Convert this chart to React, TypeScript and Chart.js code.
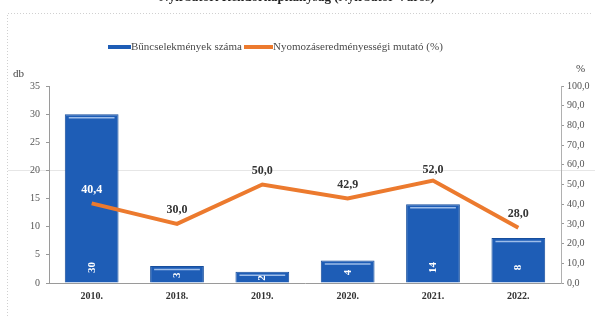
import React, { useEffect, useRef } from "react";
import { Chart, registerables } from "chart.js";

Chart.register(...registerables);

const categories = ["2010.", "2018.", "2019.", "2020.", "2021.", "2022."];
const crimeCounts = [30, 3, 2, 4, 14, 8];
const clearanceRates = [40.4, 30.0, 50.0, 42.9, 52.0, 28.0];
const leftTicks = [0, 5, 10, 15, 20, 25, 30, 35];
const rightTicks = [0, 10, 20, 30, 40, 50, 60, 70, 80, 90, 100];

const titleText = "Nyírbátori Rendőrkapitányság (Nyírbátor Város)";
const barLabel = "Bűncselekmények száma";
const lineLabel = "Nyomozáseredményességi mutató (%)";

const SERIF = "'Liberation Serif', 'DejaVu Serif', serif";
const BAR_COLOR = "#1e5db6";
const LINE_COLOR = "#ec7a2e";

const fmt = (v: number) => v.toFixed(1).replace(".", ",");

const decorPlugin = {
  id: "decor",
  beforeDraw(chart: any) {
    const { ctx } = chart;
    ctx.save();
    // frame
    ctx.strokeStyle = "#d0d0d0";
    ctx.lineWidth = 1;
    ctx.setLineDash([1, 2]);
    ctx.beginPath();
    ctx.moveTo(7.5, 316);
    ctx.lineTo(7.5, 13.5);
    ctx.lineTo(592, 13.5);
    ctx.stroke();
    ctx.setLineDash([]);
    // faint scan line
    ctx.strokeStyle = "rgba(205,205,205,0.5)";
    ctx.beginPath();
    ctx.moveTo(8, 170.5);
    ctx.lineTo(595, 170.5);
    ctx.stroke();
    // title (cut off at top)
    ctx.fillStyle = "#222";
    ctx.font = `bold 13px ${SERIF}`;
    ctx.textAlign = "center";
    ctx.textBaseline = "alphabetic";
    ctx.fillText(titleText, 297, 0.5);
    // legend
    ctx.font = `11px ${SERIF}`;
    ctx.textAlign = "left";
    ctx.textBaseline = "middle";
    ctx.fillStyle = BAR_COLOR;
    ctx.fillRect(108, 45, 23, 4);
    ctx.fillStyle = "#4a4a4a";
    ctx.fillText(barLabel, 131, 47.5);
    ctx.fillStyle = LINE_COLOR;
    ctx.fillRect(244, 45, 29, 4);
    ctx.fillStyle = "#4a4a4a";
    ctx.fillText(lineLabel, 273, 47.5);
    // axis unit labels
    ctx.font = `11px ${SERIF}`;
    ctx.fillStyle = "#444";
    ctx.textAlign = "left";
    ctx.fillText("db", 13, 74);
    ctx.fillText("%", 576, 69);
    ctx.restore();
  },
  afterDatasetsDraw(chart: any) {
    const { ctx } = chart;
    ctx.save();
    const barMeta = chart.getDatasetMeta(0);
    barMeta.data.forEach((bar: any, i: number) => {
      const w = bar.width;
      // highlight stripe
      ctx.strokeStyle = "#9dbde9";
      ctx.lineWidth = 1.5;
      ctx.beginPath();
      ctx.moveTo(bar.x - w / 2 + 4, bar.y + 3.5);
      ctx.lineTo(bar.x + w / 2 - 4, bar.y + 3.5);
      ctx.stroke();
      // rotated value label
      const ly = Math.max(bar.base - 15, (bar.y + bar.base) / 2 + 1);
      ctx.save();
      ctx.translate(bar.x, ly);
      ctx.rotate(-Math.PI / 2);
      ctx.fillStyle = "#ffffff";
      ctx.font = `bold 11px ${SERIF}`;
      ctx.textAlign = "center";
      ctx.textBaseline = "middle";
      ctx.fillText(String(crimeCounts[i]), 0, 0);
      ctx.restore();
    });
    const lineMeta = chart.getDatasetMeta(1);
    lineMeta.data.forEach((pt: any, i: number) => {
      ctx.font = `bold 12px ${SERIF}`;
      ctx.textAlign = "center";
      ctx.textBaseline = "middle";
      ctx.fillStyle = i === 0 ? "#ffffff" : "#333333";
      const off = i === 4 ? 11 : 14;
      ctx.fillText(fmt(clearanceRates[i]), pt.x, pt.y - off);
    });
    ctx.restore();
  },
};

export default function App() {
  const canvasRef = useRef<HTMLCanvasElement | null>(null);

  useEffect(() => {
    if (!canvasRef.current) return;
    const tickFont = { family: SERIF, size: 10 };
    const chart = new Chart(canvasRef.current, {
      type: "bar",
      data: {
        labels: categories,
        datasets: [
          {
            type: "bar",
            label: barLabel,
            data: crimeCounts,
            backgroundColor: BAR_COLOR,
            borderColor: "#174e9c",
            borderWidth: 1,
            yAxisID: "y",
            categoryPercentage: 1,
            barPercentage: 0.63,
            order: 2,
          } as any,
          {
            type: "line",
            label: lineLabel,
            data: clearanceRates,
            borderColor: LINE_COLOR,
            borderWidth: 4,
            pointRadius: 0,
            tension: 0,
            yAxisID: "y1",
            order: 1,
          } as any,
        ],
      },
      plugins: [decorPlugin],
      options: {
        responsive: false,
        animation: false,
        devicePixelRatio: 1,
        layout: { padding: { top: 86, left: 0, right: 0, bottom: 0 } },
        plugins: {
          legend: { display: false },
          title: { display: false },
          tooltip: { enabled: false },
        },
        scales: {
          x: {
            type: "category",
            offset: true,
            grid: { display: false, drawTicks: false },
            border: { display: true, color: "#9a9a9a", dash: [2, 2] },
            ticks: {
              font: { family: SERIF, size: 10, weight: "bold" },
              color: "#333",
              padding: 7,
            },
            afterFit: (s: any) => {
              s.height = 33;
            },
          },
          y: {
            position: "left",
            min: 0,
            max: 35,
            afterBuildTicks: (s: any) => {
              s.ticks = leftTicks.map((v) => ({ value: v }));
            },
            grid: {
              drawOnChartArea: false,
              drawTicks: true,
              tickLength: 3,
              color: "#9a9a9a",
            },
            border: { display: true, color: "#9a9a9a", dash: [2, 2] },
            ticks: { font: tickFont, color: "#555", padding: 6 },
            afterFit: (s: any) => {
              s.width = 49;
            },
          },
          y1: {
            position: "right",
            min: 0,
            max: 100,
            afterBuildTicks: (s: any) => {
              s.ticks = rightTicks.map((v) => ({ value: v }));
            },
            grid: {
              drawOnChartArea: false,
              drawTicks: true,
              tickLength: 3,
              color: "#9a9a9a",
            },
            border: { display: true, color: "#b0b0b0" },
            ticks: {
              font: tickFont,
              color: "#555",
              padding: 3,
              callback: (v: any) => fmt(Number(v)),
            },
            afterFit: (s: any) => {
              s.width = 34;
            },
          },
        },
      } as any,
    });
    return () => chart.destroy();
  }, []);

  return (
    <div
      style={{
        position: "fixed",
        left: 0,
        top: 0,
        width: 595,
        height: 316,
        background: "#fff",
      }}
    >
      <canvas ref={canvasRef} width={595} height={316} />
    </div>
  );
}
